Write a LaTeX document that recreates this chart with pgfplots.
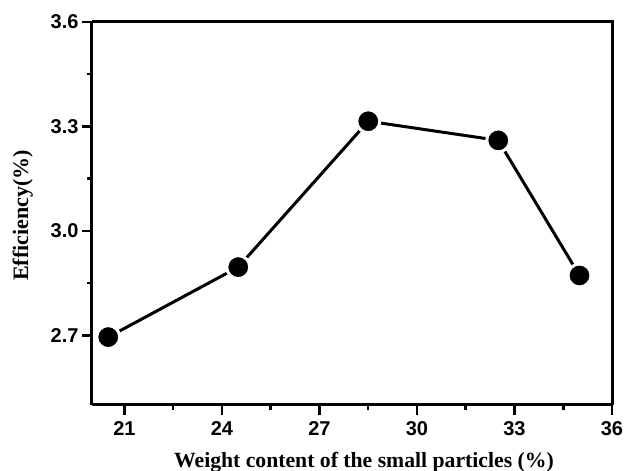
\documentclass[border=0pt]{standalone}
\usepackage{pgfplots}
\pgfplotsset{compat=1.18}
\usepackage{fontspec}
\setmainfont{Liberation Serif}
\setsansfont{Liberation Sans}

\begin{document}
\begin{tikzpicture}
\begin{axis}[
  scale only axis, width=520pt, height=383pt,
  xmin=20, xmax=36, ymin=2.5, ymax=3.6,
  xtick={21,24,...,36}, ytick={2.7,3.0,3.3,3.6},
  minor x tick num=1, minor y tick num=1,
  tick align=outside, axis x line*=bottom, axis y line*=left,
  major tick length=10pt, minor tick length=5pt,
  every tick/.style={line width=2.5pt, black},
  axis line style={line width=3pt},
  /pgf/number format/assume math mode=true,
  ticklabel style={font=\fontsize{20}{20}\selectfont\sffamily\bfseries},
  xticklabel style={yshift=-3pt},
  yticklabel style={/pgf/number format/fixed, /pgf/number format/fixed zerofill, /pgf/number format/precision=1},
  xlabel={Weight content of the small particles (\%)},
  ylabel={Efficiency(\%)},
  every axis x label/.style={at={(axis description cs:0.523,-0.163)}, anchor=base,
    font=\fontsize{21.7}{22}\selectfont\bfseries},
  every axis y label/.style={at={(axis description cs:-0.133,0.495)}, rotate=90, anchor=center,
    font=\fontsize{22}{22}\selectfont\bfseries},
  clip=false,
]
\draw[line width=3pt] (rel axis cs:0,1) -- (rel axis cs:1,1) -- (rel axis cs:1,0);
\addplot[line width=3pt, black, mark=*, mark size=11.5pt,
  mark options={fill=black, draw=white, line width=3pt}]
  coordinates {(20.5,2.695) (24.5,2.896) (28.5,3.315) (32.5,3.26) (35,2.872)};
\end{axis}
\pgfresetboundingbox
\path ([shift={(-92pt,-66pt)}]current axis.south west) rectangle ([shift={(13pt,22pt)}]current axis.north east);
\end{tikzpicture}
\end{document}
